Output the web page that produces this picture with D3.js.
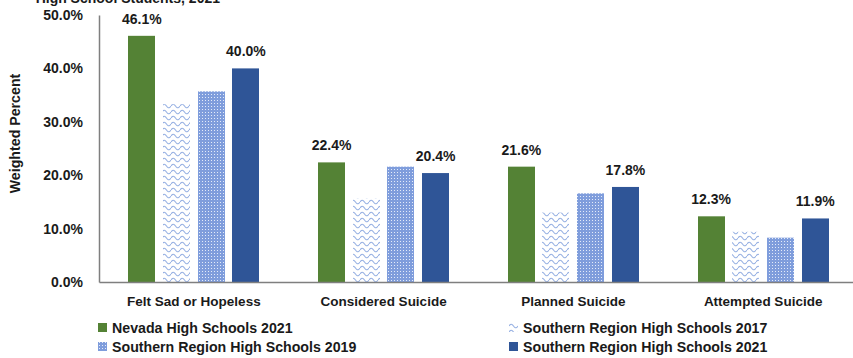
<!DOCTYPE html>
<html>
<head>
<meta charset="utf-8">
<script src="https://cdn.jsdelivr.net/npm/d3@7"></script>
<style>
  body { margin: 0; background: #fff; }
  text { font-family: "Liberation Sans", Arial, sans-serif; font-weight: bold; fill: #1a1a1a; }
</style>
</head>
<body>
<div id="chart"></div>
<script>
const categories = ["Felt Sad or Hopeless", "Considered Suicide", "Planned Suicide", "Attempted Suicide"];
const seriesNames = ["Nevada High Schools 2021", "Southern Region High Schools 2017", "Southern Region High Schools 2019", "Southern Region High Schools 2021"];
const nevada2021 = [46.1, 22.4, 21.6, 12.3];
const southern2017 = [33.3, 15.7, 13.0, 9.4];
const southern2019 = [35.7, 21.6, 16.6, 8.3];
const southern2021 = [40.0, 20.4, 17.8, 11.9];
const yTicks = [0, 10, 20, 30, 40, 50];
const labelled = [true, false, false, true];

const width = 853, height = 358;
const margin = { top: 15, right: -5, bottom: 76, left: 99 };

const svg = d3.select("#chart").append("svg")
  .attr("width", width).attr("height", height);

const defs = svg.append("defs");
// wavy pattern for 2017
const zig = defs.append("pattern").attr("id", "zig")
  .attr("patternUnits", "userSpaceOnUse").attr("width", 9).attr("height", 6);
zig.append("rect").attr("width", 9).attr("height", 6).attr("fill", "#fff");
zig.append("path").attr("d", "M0,4 Q2.25,0.5 4.5,4 T9,4 M0,-2 Q2.25,-5.5 4.5,-2 T9,-2 M0,10 Q2.25,6.5 4.5,10 T9,10")
  .attr("fill", "none").attr("stroke", "#97b1e3").attr("stroke-width", 1.1);
// fine dotted pattern for 2019
const chk = defs.append("pattern").attr("id", "chk")
  .attr("patternUnits", "userSpaceOnUse").attr("width", 3).attr("height", 3);
chk.append("rect").attr("width", 3).attr("height", 3).attr("fill", "#7f9ddc");
chk.append("rect").attr("x", 1).attr("y", 1).attr("width", 1).attr("height", 1).attr("fill", "#e4ebf9");

const fills = ["#548235", "url(#zig)", "url(#chk)", "#2f5597"];

const data = categories.map((c, i) => ({
  category: c,
  values: [nevada2021[i], southern2017[i], southern2019[i], southern2021[i]]
}));

const x0 = d3.scaleBand().domain(categories)
  .range([margin.left, width - margin.right]).padding(0);
const x1 = d3.scaleBand().domain(d3.range(seriesNames.length))
  .range([0, x0.bandwidth()]).paddingInner(0.22).paddingOuter(0.844);
const y = d3.scaleLinear().domain([0, 50]).range([height - margin.bottom, margin.top]);

// title (cut off at top)
svg.append("text").attr("x", 220).attr("y", 2.5)
  .attr("text-anchor", "end").style("font-size", "14px")
  .text("High School Students, 2021");

// y axis
const yAxis = svg.append("g").attr("transform", `translate(${margin.left},0)`)
  .call(d3.axisLeft(y).tickValues(yTicks).tickSize(0).tickPadding(16)
    .tickFormat(d => d.toFixed(1) + "%"));
yAxis.select(".domain").attr("stroke", "#7f7f7f").attr("stroke-width", 1.5);
yAxis.selectAll("text").style("font-size", "14px").attr("fill", "#1a1a1a")
  .style("font-family", "'Liberation Sans', Arial, sans-serif").style("font-weight", "bold");

svg.append("text")
  .attr("transform", `translate(20,${(y(0) + y(50)) / 2 - 15}) rotate(-90)`)
  .attr("text-anchor", "middle").style("font-size", "14.2px")
  .text("Weighted Percent");

// bars
const groups = svg.append("g").selectAll("g").data(data).join("g");

groups.selectAll("rect").data(d => d.values.map((v, i) => ({ v, i, c: d.category })))
  .join("rect")
  .attr("x", d => Math.round(x0(d.c) + x1(d.i)))
  .attr("y", d => y(d.v))
  .attr("width", Math.round(x1.bandwidth()))
  .attr("height", d => y(0) - y(d.v))
  .attr("fill", d => fills[d.i]);

groups.selectAll("text.val").data(d => d.values.map((v, i) => ({ v, i, c: d.category })).filter(o => labelled[o.i]))
  .join("text").attr("class", "val")
  .attr("x", d => x0(d.c) + x1(d.i) + x1.bandwidth() / 2)
  .attr("y", d => y(d.v) - 12)
  .attr("text-anchor", "middle").style("font-size", "14px")
  .text(d => d.v.toFixed(1) + "%");

// x axis
const xAxis = svg.append("g").attr("transform", `translate(0,${y(0)})`)
  .call(d3.axisBottom(x0).tickSize(0).tickPadding(14));
xAxis.select(".domain").attr("stroke", "#7f7f7f").attr("stroke-width", 1.5);
xAxis.selectAll("text").style("font-size", "13.5px").attr("fill", "#1a1a1a")
  .style("font-family", "'Liberation Sans', Arial, sans-serif").style("font-weight", "bold");

// legend
const legendPos = [[98, 328], [509, 328], [98, 347], [509, 347]];
const legendOrder = [0, 1, 2, 3];
const legend = svg.append("g").selectAll("g").data(legendOrder).join("g")
  .attr("transform", (d, i) => `translate(${legendPos[i][0]},${legendPos[i][1]})`);
legend.append("rect").attr("x", 0).attr("y", -5).attr("width", 9).attr("height", 9)
  .attr("fill", d => fills[d]);
legend.append("text").attr("x", 14).attr("y", 5).style("font-size", "14.2px")
  .text(d => seriesNames[d]);
</script>
</body>
</html>
